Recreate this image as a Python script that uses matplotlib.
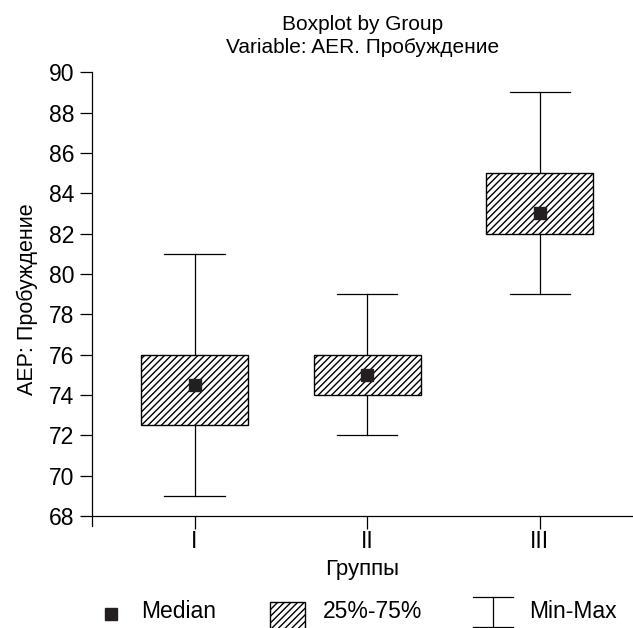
import numpy as np
import matplotlib
matplotlib.use('Agg')
import matplotlib.pyplot as plt
from matplotlib.patches import Rectangle
from matplotlib.lines import Line2D

plt.rcParams['font.family'] = ['Liberation Sans', 'DejaVu Sans']
plt.rcParams['hatch.linewidth'] = 1.0

groups = ['I', 'II', 'III']
mins = [69, 72, 79]
q1 = [72.5, 74, 82]
medians = [74.5, 75, 83]
q3 = [76, 76, 85]
maxs = [81, 79, 89]
yticks = [68, 70, 72, 74, 76, 78, 80, 82, 84, 86, 88, 90]
legend_labels = ['Median', '25%-75%', 'Min-Max']

W, H = 633, 628
fig = plt.figure(figsize=(W / 100, H / 100), dpi=100)
ax = fig.add_axes([0.145, 0.162, 0.855, 0.723])

pos = np.arange(1, len(groups) + 1)
box_w = 0.62
cap_w = 0.35
for i, p in enumerate(pos):
    ax.plot([p, p], [mins[i], q1[i]], color='black', lw=0.9)
    ax.plot([p, p], [q3[i], maxs[i]], color='black', lw=0.9)
    ax.plot([p - cap_w / 2, p + cap_w / 2], [mins[i], mins[i]], color='black', lw=0.9)
    ax.plot([p - cap_w / 2, p + cap_w / 2], [maxs[i], maxs[i]], color='black', lw=0.9)
    ax.add_patch(Rectangle((p - box_w / 2, q1[i]), box_w, q3[i] - q1[i],
                           facecolor='white', edgecolor='black', hatch='/////', lw=1.0, zorder=3))
ax.plot(pos, medians, 's', color='#231f20', markersize=8.5, zorder=4)

ax.set_xlim(0.405, 3.54)
ax.set_ylim(67.5, 90)
ax.spines['top'].set_visible(False)
ax.spines['right'].set_visible(False)
ax.spines['bottom'].set_position(('data', 68))
ax.spines['left'].set_bounds(67.5, 90)
ax.set_yticks(yticks)
ax.set_xticks(pos)
ax.set_xticklabels(groups)
ax.tick_params(axis='both', labelsize=16.5, length=9, width=0.9, color='black', direction='out')
ax.tick_params(axis='x', pad=1)
for s in ax.spines.values():
    s.set_linewidth(0.9)

ax.set_xlabel('Группы', fontsize=16, labelpad=4)
ax.set_ylabel('AEP: Пробуждение', fontsize=15.5, labelpad=8)
ax.set_title('Boxplot by Group\nVariable: AER. Пробуждение', fontsize=15, pad=14, linespacing=1.25)

# legend drawn in figure pixel coordinates
def fx(px):
    return px / W

def fy(py):
    return 1 - py / H

ty = 612
fig.add_artist(Line2D([fx(111)], [fy(614)], marker='s', color='#231f20', markersize=8.5,
                      linestyle='none', transform=fig.transFigure))
fig.text(fx(141), fy(ty), legend_labels[0], fontsize=16.5, va='center', ha='left')
fig.add_artist(Rectangle((fx(270), fy(640)), fx(35), fy(602) - fy(640), facecolor='white',
                         edgecolor='black', hatch='/////', lw=1.0, transform=fig.transFigure))
fig.text(fx(323), fy(ty), legend_labels[1], fontsize=16.5, va='center', ha='left')
for xs, ys in [([473, 513], [597, 597]), ([493, 493], [597, 640]), ([473, 513], [627, 627])]:
    fig.add_artist(Line2D([fx(v) for v in xs], [fy(v) for v in ys], color='black', lw=0.9,
                          transform=fig.transFigure))
fig.text(fx(529), fy(ty), legend_labels[2], fontsize=16.5, va='center', ha='left')

fig.savefig('out.png', dpi=100)
